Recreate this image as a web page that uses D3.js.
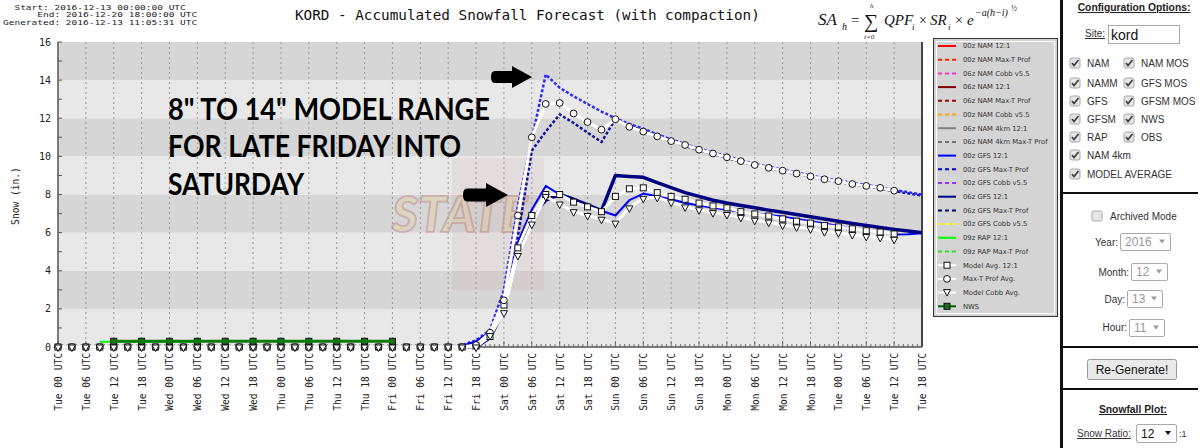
<!DOCTYPE html>
<html><head><meta charset="utf-8">
<script src="https://cdn.jsdelivr.net/npm/d3@7/dist/d3.min.js"></script>
<style>
html,body{margin:0;padding:0;background:#fff;overflow:hidden}
svg{display:block}
</style></head>
<body>
<svg id="chart" width="1200" height="448"></svg>
<script>
// ================= DATA =================
const hours = [0,3,6,9,12,15,18,21,24,27,30,33,36,39,42,45,48,51,54,57,60,63,66,69,72,75,78,81,
  84,87,90,93,96,99,102,105,108,111,114,117,120,123,126,129,132,135,138,141,144,147,150,153,156,159,
  162,165,168,171,174,177,180,183,186];
const tickHours = [0,6,12,18,24,30,36,42,48,54,60,66,72,78,84,90,96,102,108,114,120,126,132,138,144,150,156,162,168,174,180,186];
const tickLabels = ["Tue 00 UTC","Tue 06 UTC","Tue 12 UTC","Tue 18 UTC","Wed 00 UTC","Wed 06 UTC","Wed 12 UTC","Wed 18 UTC",
  "Thu 00 UTC","Thu 06 UTC","Thu 12 UTC","Thu 18 UTC","Fri 00 UTC","Fri 06 UTC","Fri 12 UTC","Fri 18 UTC",
  "Sat 00 UTC","Sat 06 UTC","Sat 12 UTC","Sat 18 UTC","Sun 00 UTC","Sun 06 UTC","Sun 12 UTC","Sun 18 UTC",
  "Mon 00 UTC","Mon 06 UTC","Mon 12 UTC","Mon 18 UTC","Tue 00 UTC","Tue 06 UTC","Tue 12 UTC","Tue 18 UTC"];
const yTicks = [0,2,4,6,8,10,12,14,16];

// model lines (values at `hours`, inches)
const gfs00MaxT = [0,0,0,0,0,0,0,0,0,0,0,0,0,0,0,0,0,0,0,0,0,0,0,0,0,0,0,0,
  0.0,0.1,0.35,0.9,3.0,7.4,10.9,14.3,13.6,13.15,12.75,12.35,12.0,11.7,11.45,11.15,10.9,10.65,10.4,10.2,
  10.0,9.8,9.6,9.45,9.3,9.15,9.0,8.85,8.75,8.6,8.5,8.38,8.25,8.12,8.0];
const gfs06MaxT = [0,0,0,0,0,0,0,0,0,0,0,0,0,0,0,0,0,0,0,0,0,0,0,0,0,0,0,0,
  0.0,0.05,0.2,0.6,1.9,5.8,10.3,11.3,12.2,11.75,11.25,10.75,11.95,11.6,11.35,11.05,10.8,10.55,10.32,10.12,
  9.92,9.72,9.53,9.38,9.22,9.07,8.93,8.78,8.67,8.53,8.43,8.31,8.18,8.06,7.95];
const gfs00Ratio = [0,0,0,0,0,0,0,0,0,0,0,0,0,0,0,0,0,0,0,0,0,0,0,0,0,0,0,0,
  0.0,0.05,0.3,0.8,2.4,5.5,7.2,8.45,8.0,7.75,7.45,7.15,6.9,7.7,8.05,7.9,7.75,7.55,7.42,7.3,
  7.2,7.1,7.0,6.93,6.84,6.72,6.6,6.48,6.35,6.22,6.1,6.0,5.9,5.92,5.97];
const gfs06Ratio = [0,0,0,0,0,0,0,0,0,0,0,0,0,0,0,0,0,0,0,0,0,0,0,0,0,0,0,0,
  0.0,0.0,0.0,0.5,1.9,4.9,6.9,7.7,8.0,7.75,7.45,7.15,9.0,8.95,8.9,8.62,8.36,8.1,7.9,7.7,
  7.55,7.42,7.3,7.18,7.07,6.95,6.83,6.72,6.6,6.48,6.37,6.27,6.17,6.08,6.0];
const namHours = [0,3,6,9,12,15,18,21,24,27,30,33,36,39,42,45,48,51,54,57,60,63,66,69,72,75,78,81,84,87,90];
const nam00Ratio = [0.05,0.05,0.05,0.05,0.05,0.05,0.05,0.05,0.05,0.05,0.05,0.05,0.05,0.05,0.05,0.05,0.05,0.05,0.05,0.05,0.05,0.05,0.05,0.05,0.05,0.05,0.05,0.05,0.05,null,null];
const nam06Ratio = [null,null,0.03,0.03,0.03,0.03,0.03,0.03,0.03,0.03,0.03,0.03,0.03,0.03,0.03,0.03,0.03,0.03,0.03,0.03,0.03,0.03,0.03,0.03,0.03,0.03,0.03,0.03,0.03,0.03,0.03];
const rapHours = [9,12,15,18,21,24,27,30];
const rapRatio = [0.28,0.28,0.28,0.28,0.28,0.28,0.28,0.28];
const nwsHours = [12,18,24,30,36,42,48,54,60,66,72];
const nwsSnow = [0.3,0.3,0.3,0.3,0.3,0.3,0.3,0.3,0.3,0.3,0.3];

// averages (values at hours 0..180)
const avgHours = hours.slice(0, 61);
const avgRatio = [0,0,0,0,0,0,0,0,0,0,0,0,0,0,0,0,0,0,0,0,0,0,0,0,0,0,0,0,
  0,0,0.05,0.55,2.2,5.2,6.9,8.0,8.0,7.6,7.35,7.1,7.9,8.3,8.35,8.1,7.9,7.75,7.55,7.4,7.3,7.1,6.98,6.87,
  6.72,6.6,6.5,6.37,6.3,6.2,6.1,6.03,5.93];
const avgMaxT = [0,0,0,0,0,0,0,0,0,0,0,0,0,0,0,0,0,0,0,0,0,0,0,0,0,0,0,0,
  0,0,0.1,0.75,2.45,6.9,11.0,12.75,12.8,12.25,11.8,11.4,11.95,11.55,11.3,11.05,10.8,10.6,10.35,10.15,9.95,9.75,9.55,9.4,
  9.25,9.1,8.95,8.8,8.7,8.55,8.45,8.35,8.2];
const avgCobb = [0,0,0,0,0,0,0,0,0,0,0,0,0,0,0,0,0,0,0,0,0,0,0,0,0,0,0,0,
  0,0,0,0.6,1.8,4.8,6.45,7.9,7.5,7.1,6.9,6.7,6.5,7.3,7.8,7.85,7.6,7.35,7.2,7.05,6.95,6.8,6.65,6.55,
  6.4,6.3,6.2,6.05,6.0,5.9,5.8,5.75,5.65];

const legendLabels = ["00z NAM 12:1","00z NAM Max-T Prof","06z NAM Cobb v5.5","06z NAM 12:1","06z NAM Max-T Prof",
  "00z NAM Cobb v5.5","06z NAM 4km 12:1","06z NAM 4km Max-T Prof","00z GFS 12:1","00z GFS Max-T Prof",
  "00z GFS Cobb v5.5","06z GFS 12:1","06z GFS Max-T Prof","00z GFS Cobb v5.5","09z RAP 12:1","09z RAP Max-T Prof",
  "Model Avg. 12:1","Max-T Prof Avg.","Model Cobb Avg.","NWS"];
const legendColors = ["#ff0000","#ff2200","#ff33cc","#800000","#a00000","#ffa500","#808080","#707070",
  "#0000ff","#0000cc","#9933ff","#000080","#000080","#ffff00","#00ff00","#33dd33",
  "#ffffff","#ffffff","#ffffff","#006400"];
const legendDashed = [false,true,true,false,true,true,false,true,false,true,true,false,true,true,false,true,false,false,false,false];
const legendMarkers = [null,null,null,null,null,null,null,null,null,null,null,null,null,null,null,null,"square","circle","triangle","nws"];

const headerLines = ["     Start: 2016-12-13 00:00:00 UTC","       End: 2016-12-20 18:00:00 UTC","Generated: 2016-12-13 11:05:31 UTC"];
const titleText = "KORD - Accumulated Snowfall Forecast (with compaction)";
const noteLines = ["8\" TO 14\" MODEL RANGE","FOR LATE FRIDAY INTO","SATURDAY"];

// ================= DRAW =================
const svg = d3.select("#chart");
const mono = "DejaVu Sans Mono, Liberation Mono, monospace";
const x = d3.scaleLinear().domain([0,186]).range([58,922]);
const y = d3.scaleLinear().domain([0,16]).range([347,42]);

// header (squat monospace text)
const hdrX = [3 + 2*5.72, 3 + 6*5.72, 3];
svg.selectAll("text.hdr").data(headerLines).join("text").attr("class","hdr")
  .attr("transform", (d,i)=>`translate(${hdrX[i]},${9.8 + i*7.6}) scale(1,0.72)`)
  .attr("font-family", mono).attr("font-size", 9.5).attr("fill","#222")
  .text(d=>d.trim());

svg.append("text").attr("x", 295).attr("y", 20).attr("font-family", mono).attr("font-size", 14.3)
  .attr("fill","#111").text(titleText);

// formula
const ff = "Liberation Serif, DejaVu Serif, serif";
function ft(tx, ty, size, s, italic){ svg.append("text").attr("x",tx).attr("y",ty).attr("font-family",ff)
  .attr("font-size",size).attr("font-style", italic?"italic":"normal").attr("fill","#111").text(s); }
ft(818,25,17,"SA",true); ft(842,30,10,"h",true); ft(851,25,15,"=",false);
ft(864,28,20,"\u2211",false); ft(870,8,7,"h",true); ft(864,39,7,"i=0",true);
ft(884,25,15,"QPF",true); ft(912,30,9,"i",true); ft(919,25,14,"\u00d7",false);
ft(930,25,15,"SR",true); ft(948,30,9,"i",true); ft(955,25,14,"\u00d7",false);
ft(967,25,15,"e",true); ft(975,16,10,"\u2212a(h\u2212i)",true); ft(1011,11,8,"\u00bd",true);

// plot bands
const plot = svg.append("g");
plot.selectAll("rect.band").data(yTicks.slice(0,-1)).join("rect")
  .attr("x", x(0)).attr("width", x(186)-x(0))
  .attr("y", d=>y(d+2)).attr("height", d=>y(d)-y(d+2))
  .attr("fill", d=>((d/2)%2===1) ? "#d6d6d6" : "#e8e8e8");

// watermark (faint logo)
const wm = plot.append("g");
wm.append("rect").attr("x",452).attr("y",158).attr("width",92).attr("height",132).attr("fill","#c98a8a").attr("opacity",0.12);
wm.append("text").attr("x",392).attr("y",232).attr("font-family","Lato, sans-serif").attr("font-weight",900)
  .attr("font-style","italic").attr("font-size",50).attr("fill","#f0d070").attr("stroke","#a03030").attr("stroke-width",2)
  .attr("opacity",0.22).text("STATE");

// vertical dashed grid
plot.selectAll("line.vg").data(tickHours.slice(1,-1)).join("line")
  .attr("x1", d=>x(d)).attr("x2", d=>x(d)).attr("y1", y(16)).attr("y2", y(0))
  .attr("stroke","#9a9a9a").attr("stroke-width",1).attr("stroke-dasharray","2,3");

// frame
plot.append("line").attr("x1",x(0)).attr("x2",x(0)).attr("y1",y(16)).attr("y2",y(0)).attr("stroke","#555").attr("stroke-width",1.5);
plot.append("line").attr("x1",x(186)).attr("x2",x(186)).attr("y1",y(16)).attr("y2",y(0)).attr("stroke","#444").attr("stroke-width",2);
plot.append("line").attr("x1",x(0)).attr("x2",x(186)).attr("y1",y(0)).attr("y2",y(0)).attr("stroke","#555").attr("stroke-width",1.5);

// y ticks
const yMinor = d3.range(0,17,1);
plot.selectAll("line.yt").data(yMinor).join("line")
  .attr("x1",x(0)).attr("x2",x(0)+4).attr("y1",d=>y(d)).attr("y2",d=>y(d)).attr("stroke","#555");
svg.selectAll("text.yl").data(yTicks).join("text")
  .attr("x",51).attr("y",d=>y(d)+3.5).attr("text-anchor","end")
  .attr("font-family",mono).attr("font-size",10).attr("fill","#222").text(d=>d);
svg.append("text").attr("transform","translate(19,196) rotate(-90)").attr("text-anchor","middle")
  .attr("font-family",mono).attr("font-size",9.6).attr("fill","#222").text("Snow (in.)");

// x ticks
const xMinor = d3.range(0,187,1);
plot.selectAll("line.xt").data(xMinor).join("line")
  .attr("x1",d=>x(d)).attr("x2",d=>x(d)).attr("y1",y(0)).attr("y2",d=> d%6===0 ? y(0)-6 : y(0)-3)
  .attr("stroke","#555").attr("stroke-width",0.8);
svg.selectAll("text.xl").data(tickHours).join("text")
  .attr("transform",(d)=>`translate(${x(d)+4},353) rotate(-90)`).attr("text-anchor","end")
  .attr("font-family",mono).attr("font-size",9.6).attr("fill","#222")
  .text((d,i)=>tickLabels[i]);

// lines
const lineGen = () => d3.line().defined(d=>d[1]!==null).x(d=>x(d[0])).y(d=>y(d[1]));
function drawSeries(hs, vals, color, width, dash){
  const pts = hs.map((h,i)=>[h, vals[i]]);
  plot.append("path").attr("d", lineGen()(pts)).attr("fill","none").attr("stroke",color)
    .attr("stroke-width",width).attr("stroke-dasharray",dash||null).attr("stroke-linejoin","round");
}
drawSeries(namHours, nam06Ratio, "#800000", 2);
drawSeries(namHours, nam00Ratio, "#ff0000", 2);
drawSeries(rapHours, rapRatio, "#00ff00", 2);
drawSeries(hours, gfs06MaxT, "#1010a0", 2.5, "3,2");
drawSeries(hours, gfs00MaxT, "#2a2aff", 2.5, "3,2");
drawSeries(hours, gfs00Ratio, "#0000ff", 2);
drawSeries(hours, gfs06Ratio, "#000080", 3.5);

// averages: white lines
drawSeries(avgHours, avgRatio, "#ffffff", 3);
drawSeries(avgHours, avgMaxT, "#ffffff", 3);
drawSeries(avgHours, avgCobb, "#ffffff", 3);

function marker(g, type, cx, cy){
  if(type==="square") g.append("rect").attr("x",cx-3).attr("y",cy-3).attr("width",6).attr("height",6)
      .attr("fill","#fff").attr("stroke","#111").attr("stroke-width",1);
  else if(type==="circle") g.append("circle").attr("cx",cx).attr("cy",cy).attr("r",3.4)
      .attr("fill","#fff").attr("stroke","#111").attr("stroke-width",1);
  else if(type==="triangle") g.append("path").attr("d",`M${cx-3.5},${cy-3}L${cx+3.5},${cy-3}L${cx},${cy+3.5}Z`)
      .attr("fill","#fff").attr("stroke","#111").attr("stroke-width",1);
  else if(type==="nws") g.append("rect").attr("x",cx-3).attr("y",cy-3).attr("width",6).attr("height",6)
      .attr("fill","#1f6b1f").attr("stroke","#111").attr("stroke-width",1);
}
const mk = plot.append("g");
avgHours.forEach((h,i)=>{ marker(mk,"square",x(h),y(avgRatio[i])); });
avgHours.forEach((h,i)=>{ marker(mk,"circle",x(h),y(avgMaxT[i])); });
avgHours.forEach((h,i)=>{ marker(mk,"triangle",x(h),y(avgCobb[i])+1); });

// NWS
drawSeries(nwsHours, nwsSnow, "#0c7a0c", 3);
nwsHours.forEach((h,i)=> marker(mk,"nws",x(h),y(nwsSnow[i])));

// annotations
const noteY = [120,157,195], noteW = [322,293,136];
svg.selectAll("text.note").data(noteLines).join("text")
  .attr("x",168).attr("y",(d,i)=>noteY[i]).attr("font-family","Lato, Open Sans, sans-serif").attr("font-weight",700)
  .attr("font-size",31).attr("fill","#000").attr("textLength",(d,i)=>noteW[i]).attr("lengthAdjust","spacingAndGlyphs")
  .text(d=>d);
function arrow(x0,x1,yc,sh,hh,hx){
  return `M${x0+4},${yc-sh} Q${x0},${yc-sh} ${x0},${yc} Q${x0},${yc+sh} ${x0+4},${yc+sh} L${hx},${yc+sh} L${hx},${yc+hh} L${x1},${yc} L${hx},${yc-hh} L${hx},${yc-sh} Z`;
}
svg.append("path").attr("d",arrow(491,532,77,6,11,512)).attr("fill","#000");
svg.append("path").attr("d",arrow(463,508,195,6.5,12,486)).attr("fill","#000");

// legend
const lg = svg.append("g");
lg.append("rect").attr("x",933.5).attr("y",38.5).attr("width",124).attr("height",278).attr("fill","#d4d4d4").attr("stroke","#333");
lg.append("rect").attr("x",936.5).attr("y",41.5).attr("width",118).attr("height",272).attr("fill","none").attr("stroke","#fff");
legendLabels.forEach((lab,i)=>{
  const ly = 46 + i*13.7;
  lg.append("line").attr("x1",938).attr("x2",956).attr("y1",ly).attr("y2",ly)
    .attr("stroke",legendColors[i]).attr("stroke-width",2).attr("stroke-dasharray",legendDashed[i]?"4,3":null);
  if(legendMarkers[i]) marker(lg, legendMarkers[i], 947, ly);
  lg.append("text").attr("x",963).attr("y",ly+2.3).attr("font-family","DejaVu Sans, Verdana, sans-serif")
    .attr("font-size",6.8).attr("fill","#333").text(lab);
});

// ===== right configuration panel =====
const P = svg.append("g");
const sans = "Liberation Sans, Arial, sans-serif";
P.append("rect").attr("x",1060).attr("y",0).attr("width",3).attr("height",448).attr("fill","#111");
function ptext(tx,ty,s,opt){ opt=opt||{}; const t=P.append("text").attr("x",tx).attr("y",ty).attr("font-family",sans)
  .attr("font-size",opt.size||10).attr("fill",opt.fill||"#333").attr("font-weight",opt.bold?700:400)
  .attr("text-anchor",opt.anchor||"start").text(s);
  if(opt.u) t.attr("text-decoration","underline"); return t; }
ptext(1134,11,"Configuration Options:",{size:10.3,bold:true,anchor:"middle",fill:"#222",u:true});
ptext(1085,37,"Site:",{size:10,u:true,fill:"#333"});
P.append("rect").attr("x",1108.5).attr("y",25.5).attr("width",71).attr("height",18).attr("fill","#fff").attr("stroke","#aaa");
ptext(1111,40,"kord",{size:14,fill:"#111"});
function checkbox(cx,cy,checked){
  P.append("rect").attr("x",cx-5).attr("y",cy-5).attr("width",10).attr("height",10).attr("rx",2)
    .attr("fill","#e6e6e6").attr("stroke","#a8a8a8");
  if(checked) P.append("path").attr("d",`M${cx-3},${cy} L${cx-1},${cy+2.5} L${cx+3.5},${cy-3}`)
    .attr("fill","none").attr("stroke","#444").attr("stroke-width",1.8);
}
const cbRows = [[63,"NAM","NAM MOS"],[83,"NAMM","GFS MOS"],[101,"GFS","GFSM MOS"],[119,"GFSM","NWS"],[137,"RAP","OBS"],[155,"NAM 4km",null],[174,"MODEL AVERAGE",null]];
cbRows.forEach(r=>{
  checkbox(1075,r[0],true); ptext(1087,r[0]+4,r[1]);
  if(r[2]){ checkbox(1129,r[0],true); ptext(1141,r[0]+4,r[2]); }
});
P.append("rect").attr("x",1063).attr("y",192).attr("width",135).attr("height",2).attr("fill","#111");
checkbox(1097,216,false); ptext(1110,220,"Archived Mode");
function select(bx,by,bw,bh,val,fill){
  P.append("rect").attr("x",bx+0.5).attr("y",by+0.5).attr("width",bw).attr("height",bh).attr("rx",1.5).attr("fill","#fff").attr("stroke","#aaa");
  ptext(bx+5,by+bh/2+4.5,val,{size:12,fill:fill});
  P.append("path").attr("d",`M${bx+bw-11},${by+bh/2-2} l6,0 l-3,4 z`).attr("fill",fill);
}
ptext(1118,246,"Year:",{anchor:"end"}); select(1120,233,50,17,"2016","#999");
ptext(1129,276,"Month:",{anchor:"end"}); select(1131,263,36,17,"12","#999");
ptext(1125,303,"Day:",{anchor:"end"}); select(1127,290,35,17,"13","#999");
ptext(1127,331,"Hour:",{anchor:"end"}); select(1129,319,35,17,"11","#999");
P.append("rect").attr("x",1063).attr("y",346).attr("width",135).attr("height",2).attr("fill","#111");
P.append("rect").attr("x",1087.5).attr("y",359.5).attr("width",89).attr("height",20).attr("rx",2).attr("fill","#e9e9e9").attr("stroke","#999");
ptext(1132,374,"Re-Generate!",{size:12,anchor:"middle",fill:"#111"});
P.append("rect").attr("x",1063).attr("y",388).attr("width",135).attr("height",2).attr("fill","#111");
ptext(1133,413,"Snowfall Plot:",{size:10.3,bold:true,anchor:"middle",fill:"#222",u:true});
ptext(1077,437,"Snow Ratio:",{size:10,u:true});
select(1136,424,40,18,"12","#111");
ptext(1179,437,":1",{size:9});
</script>
</body></html>
